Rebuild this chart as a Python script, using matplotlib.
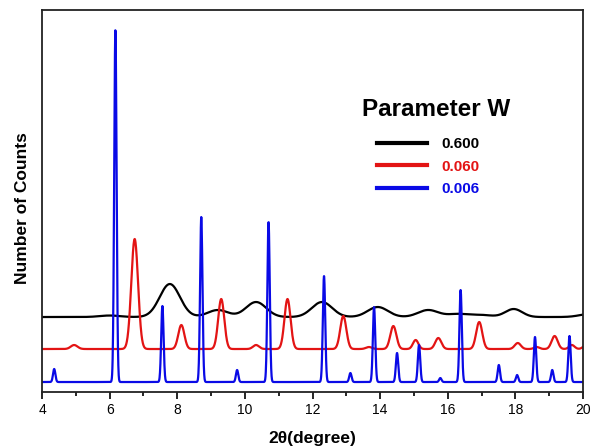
import numpy as np
import matplotlib
matplotlib.use("Agg")
import matplotlib.pyplot as plt

plt.rcParams['font.family'] = ['Liberation Sans', 'DejaVu Sans']

# Simulated powder patterns for three values of the profile parameter W.
# Each pattern: peak positions (2theta, deg), peak heights, peak widths (sigma, deg),
# plus the vertical offset used to stack the traces.
w_labels = ["0.600", "0.060", "0.006"]
colors = ["#000000", "#e31414", "#0a0ae6"]
offsets = [75, 43, 10]

pos_0600 = [6.0, 7.78, 9.2, 10.33, 12.28, 13.93, 15.42, 16.3, 17.0, 17.95, 20.2]
hgt_0600 = [1.5, 33, 7, 15, 15, 10, 7, 3, 2, 8, 3]
sig_0600 = [0.3, 0.3, 0.3, 0.3, 0.3, 0.3, 0.3, 0.3, 0.3, 0.25, 0.3]

pos_0060 = [4.95, 6.74, 8.12, 9.30, 10.33, 11.26, 12.91, 13.67, 14.39, 15.05,
            15.72, 16.93, 18.07, 18.63, 19.16, 19.67, 20.1]
hgt_0060 = [4, 110, 24, 50, 4, 50, 33, 2, 23, 9, 11, 27, 6, 2, 13, 4, 4]
sig_0060 = [0.1, 0.1, 0.09, 0.09, 0.09, 0.09, 0.09, 0.09, 0.09, 0.08, 0.09,
            0.09, 0.09, 0.08, 0.09, 0.08, 0.09]

pos_0006 = [4.36, 6.17, 7.56, 8.71, 9.77, 10.70, 12.34, 13.12, 13.82, 14.50,
            15.15, 15.78, 16.38, 17.51, 18.05, 18.58, 19.09, 19.60]
hgt_0006 = [13, 352, 76, 165, 12, 160, 106, 9, 75, 29, 37, 4, 92, 17, 7, 45, 12, 46]
sig_0006 = [0.035] * len(pos_0006)

peaks = [(pos_0600, hgt_0600, sig_0600),
         (pos_0060, hgt_0060, sig_0060),
         (pos_0006, hgt_0006, sig_0006)]

two_theta = np.linspace(4, 20, 4000)


def profile(pos, hgt, sig):
    y = np.zeros_like(two_theta)
    for p, h, s in zip(pos, hgt, sig):
        y += h * np.exp(-0.5 * ((two_theta - p) / s) ** 2)
    return y


fig = plt.figure(figsize=(5.91, 4.47), dpi=100)
ax = fig.add_axes([0.0711, 0.123, 0.9154, 0.8546])

for (pos, hgt, sig), off, c, lab in zip(peaks, offsets, colors, w_labels):
    ax.plot(two_theta, profile(pos, hgt, sig) + off, color=c, lw=1.6, label=lab)

ax.set_xlim(4, 20)
ax.set_ylim(0, 382)
ax.set_xticks(np.arange(4, 21, 2))
ax.set_xticks(np.arange(5, 20, 2), minor=True)
ax.set_yticks([])
ax.tick_params(axis='x', which='major', direction='out', length=5, width=1.2,
               labelsize=10, pad=3)
ax.tick_params(axis='x', which='minor', direction='out', length=3, width=1.2)
for sp in ax.spines.values():
    sp.set_linewidth(1.3)
    sp.set_color('#222222')

ax.set_xlabel("2θ(degree)", fontsize=12.5, fontweight='bold', labelpad=10)
ax.set_ylabel("Number of Counts", fontsize=12.5, fontweight='bold')
ax.yaxis.set_label_coords(-0.022, 0.482)

leg = ax.legend(frameon=False, loc='upper left',
                bbox_to_anchor=(0.608, 0.683), handlelength=3.3, handletextpad=0.9,
                labelspacing=0.55, fontsize=11, labelcolor='linecolor',
                borderaxespad=0.0)
for t in leg.get_texts():
    t.set_fontweight('bold')
for h in leg.get_lines():
    h.set_linewidth(3)

ax.text(0.729, 0.74, "Parameter W", transform=ax.transAxes, ha='center',
        va='center', fontsize=17.5, fontweight='bold')

fig.savefig("out.png", dpi=100)
